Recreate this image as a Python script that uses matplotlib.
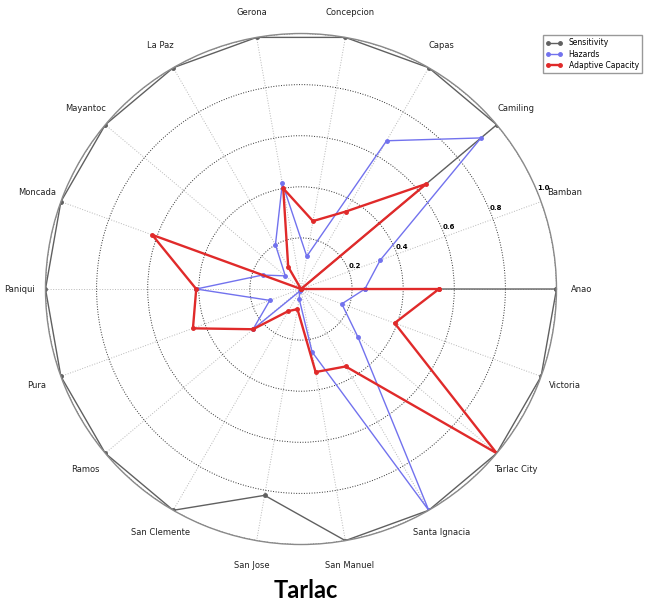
import numpy as np
import matplotlib
matplotlib.use("Agg")
import matplotlib.pyplot as plt

towns = ["Anao", "Bamban", "Camiling", "Capas", "Concepcion", "Gerona", "La Paz",
         "Mayantoc", "Moncada", "Paniqui", "Pura", "Ramos", "San Clemente",
         "San Jose", "San Manuel", "Santa Ignacia", "Tarlac City", "Victoria"]

sensitivity = [1.0, 0.0, 1.0, 1.0, 1.0, 1.0, 1.0, 1.0, 1.0, 1.0, 1.0, 1.0, 1.0,
               0.82, 1.0, 1.0, 1.0, 1.0]
hazards = [0.25, 0.33, 0.92, 0.67, 0.13, 0.42, 0.20, 0.08, 0.16, 0.41, 0.13,
           0.245, 0.01, 0.04, 0.25, 1.0, 0.29, 0.17]
adaptive = [0.54, 0.0, 0.64, 0.35, 0.27, 0.40, 0.10, 0.0, 0.62, 0.41, 0.45,
            0.245, 0.10, 0.08, 0.33, 0.35, 1.0, 0.39]

rticks = [0.2, 0.4, 0.6, 0.8, 1.0]

angles = np.linspace(0, 2 * np.pi, len(towns), endpoint=False)
closed = np.append(angles, angles[0])

fig = plt.figure(figsize=(6.47, 6.08), dpi=100)
ax = fig.add_axes([0.0703, 0.1044, 0.7898, 0.8405], projection="polar")

series = [
    ("Sensitivity", sensitivity, "#606060", 1.0),
    ("Hazards", hazards, "#7272ee", 1.0),
    ("Adaptive Capacity", adaptive, "#e02a2a", 1.7),
]
for name, vals, color, lw in series:
    v = np.append(vals, vals[0])
    ax.plot(closed, v, color=color, linewidth=lw, marker="o", markersize=2.5,
            label=name)

ax.set_ylim(0, 1.0)
ax.set_xticks(angles)
ax.set_xticklabels([])
ax.set_rgrids(rticks, labels=[f"{t:.1f}" for t in rticks], angle=22.5,
              fontsize=5, fontweight="bold")
ax.xaxis.grid(True, color="#b8b8b8", linestyle=":", linewidth=0.7)
ax.yaxis.grid(True, color="#303030", linestyle=":", linewidth=0.7)
ax.spines["polar"].set_color("#8a8a8a")
ax.spines["polar"].set_linewidth(1.0)

for ang, name in zip(angles, towns):
    ax.text(ang, 1.1, name, ha="center", va="center", fontsize=6, color="#222222")

fig.legend(loc="upper right", bbox_to_anchor=(0.998, 0.948), fontsize=5.5,
           numpoints=2, fancybox=False, edgecolor="#999999", framealpha=1,
           handlelength=2.2, borderpad=0.4, labelspacing=0.3)

fig.text(0.473, 0.016, "Tarlac", ha="center", va="baseline", fontsize=17,
         fontweight="bold", family="Lato")

fig.savefig("out.png", dpi=100)
